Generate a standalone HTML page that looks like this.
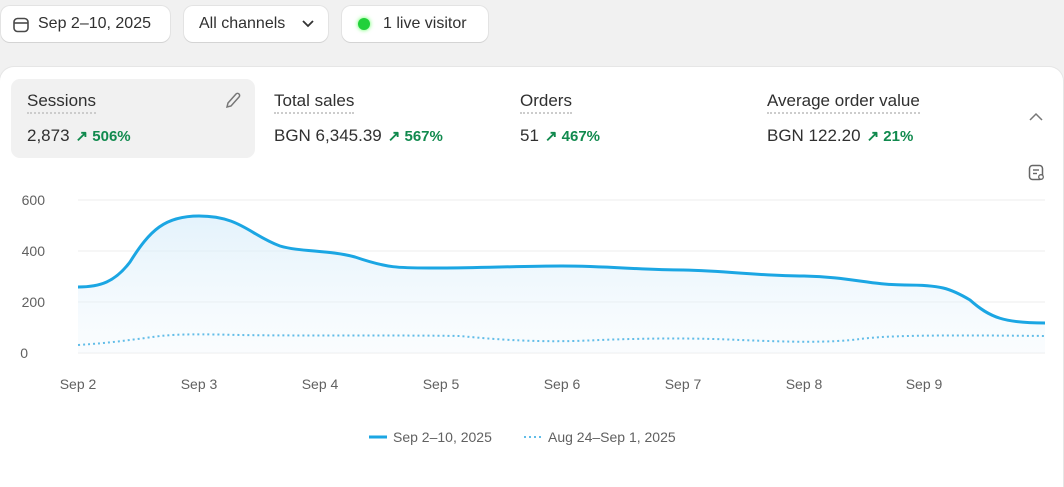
<!DOCTYPE html>
<html><head><style>
body{margin:0;width:1064px;height:468px;background:#f1f1f1;font-family:"Liberation Sans",sans-serif;overflow:hidden;position:relative;color:#303030}
.btn{position:absolute;top:6px;height:36px;background:#fff;border-radius:9px;box-shadow:0 1px 0 #d4d4d4,0 0 0 1px #e3e3e3;font-size:16px;line-height:36px;color:#303030}
.card{position:absolute;left:0;top:67px;width:1063px;height:420px;background:#fff;border-radius:14px 14px 0 0;box-shadow:0 0 0 1px #e6e6e6}
.m{position:absolute;font-size:17px}
.m .t{border-bottom:2px dotted #ccc;padding-bottom:2px}
.m .v{position:absolute;top:35px;white-space:nowrap;font-size:17px}
.g{color:#118a4e;font-size:15px;font-weight:bold;margin-left:6px}
</style></head><body>
<div class="btn" style="left:1px;width:169px"><svg style="position:absolute;left:11px;top:10px" width="18" height="18" viewBox="0 0 18 18"><rect x="2" y="2.5" width="14" height="13" rx="3.5" fill="none" stroke="#4a4a4a" stroke-width="1.6"/><line x1="2" y1="7" x2="16" y2="7" stroke="#4a4a4a" stroke-width="1.6"/></svg><span style="position:absolute;left:37px">Sep 2–10, 2025</span></div>
<div class="btn" style="left:184px;width:144px"><span style="position:absolute;left:15px">All channels</span><svg style="position:absolute;left:118px;top:14px" width="12" height="8"><path d="M1 1l5 5 5-5" fill="none" stroke="#333" stroke-width="1.8"/></svg></div>
<div class="btn" style="left:342px;width:146px"><span style="position:absolute;left:16px;top:12px;width:12px;height:12px;border-radius:6px;background:#22d03a;box-shadow:0 0 4px #5f5"></span><span style="position:absolute;left:41px">1 live visitor</span></div>
<div class="card">
<div style="position:absolute;left:11px;top:12px;width:244px;height:79px;background:#f1f1f1;border-radius:9px"></div>
<svg style="position:absolute;left:223px;top:24px" width="18" height="20"><path d="M4 16l1-4 8-9a2 2 0 013 3l-8 9z" fill="none" stroke="#777" stroke-width="1.5"/></svg>
<div class="m" style="left:27px;top:24px"><span class="t">Sessions</span><div class="v">2,873<span class="g">↗ 506%</span></div></div>
<div class="m" style="left:274px;top:24px"><span class="t">Total sales</span><div class="v">BGN 6,345.39<span class="g">↗ 567%</span></div></div>
<div class="m" style="left:520px;top:24px"><span class="t">Orders</span><div class="v">51<span class="g">↗ 467%</span></div></div>
<div class="m" style="left:767px;top:24px"><span class="t">Average order value</span><div class="v">BGN 122.20<span class="g">↗ 21%</span></div></div>
<svg style="position:absolute;left:1029px;top:45px" width="14" height="10"><path d="M1 8l6-6 6 6" fill="none" stroke="#777" stroke-width="1.5"/></svg>
<svg style="position:absolute;left:1028px;top:97px" width="18" height="18"><rect x="1.5" y="1.5" width="13" height="14" rx="3" fill="none" stroke="#666" stroke-width="1.5"/><line x1="5" y1="6" x2="11" y2="6" stroke="#666" stroke-width="1.4"/><line x1="5" y1="9.5" x2="9" y2="9.5" stroke="#666" stroke-width="1.4"/><circle cx="13" cy="13" r="2.3" fill="#fff" stroke="#666" stroke-width="1.3"/></svg>
</div>
<svg style="position:absolute;left:0;top:0" width="1064" height="468">
<defs><linearGradient id="f" x1="0" y1="0" x2="0" y2="1"><stop offset="0" stop-color="#d8edfa" stop-opacity=".7"/><stop offset="1" stop-color="#eef7fd" stop-opacity=".3"/></linearGradient></defs>
<g stroke="#ececec" stroke-width="1"><line x1="78" y1="200" x2="1045" y2="200"/><line x1="78" y1="251" x2="1045" y2="251"/><line x1="78" y1="302" x2="1045" y2="302"/><line x1="78" y1="353" x2="1045" y2="353"/></g>
<g font-size="14" fill="#616161" text-anchor="end"><text x="45" y="205">600</text><text x="45" y="256">400</text><text x="45" y="307">200</text><text x="28" y="358">0</text></g>
<g font-size="14" fill="#616161" text-anchor="middle"><text x="78" y="389">Sep 2</text><text x="199" y="389">Sep 3</text><text x="320" y="389">Sep 4</text><text x="441" y="389">Sep 5</text><text x="562" y="389">Sep 6</text><text x="683" y="389">Sep 7</text><text x="804" y="389">Sep 8</text><text x="924" y="389">Sep 9</text></g>
<path d="M78 287C100 287 115 282 130 262C150 230 165 216 199 216C240 216 250 235 280 246C300 252 330 250 355 257C390 269 400 268 441 268C480 268 520 266 562 266C610 266 640 270 683 270C730 271 760 276 804 276C850 277 870 285 905 285C940 285 950 288 970 300C990 318 1005 323 1045 323L1045 353L78 353Z" fill="url(#f)"/>
<path d="M78 287C100 287 115 282 130 262C150 230 165 216 199 216C240 216 250 235 280 246C300 252 330 250 355 257C390 269 400 268 441 268C480 268 520 266 562 266C610 266 640 270 683 270C730 271 760 276 804 276C850 277 870 285 905 285C940 285 950 288 970 300C990 318 1005 323 1045 323" fill="none" stroke="#1ba6e3" stroke-width="3"/>
<path d="M78 345C110 343 130 340 160 336C180 334 200 334 240 335C300 336 400 335 460 336C520 342 560 342 600 340C650 338 700 338 740 340C790 342 830 343 860 339C890 335 950 335 1045 336" fill="none" stroke="#62bde8" stroke-width="2" stroke-dasharray="2 3"/>
<line x1="369" y1="437" x2="387" y2="437" stroke="#1ba6e3" stroke-width="3"/>
<text x="393" y="442" font-size="14" fill="#616161">Sep 2–10, 2025</text>
<line x1="524" y1="437" x2="542" y2="437" stroke="#62bde8" stroke-width="2" stroke-dasharray="2 3"/>
<text x="548" y="442" font-size="14" fill="#616161">Aug 24–Sep 1, 2025</text>
</svg>
</body></html>
